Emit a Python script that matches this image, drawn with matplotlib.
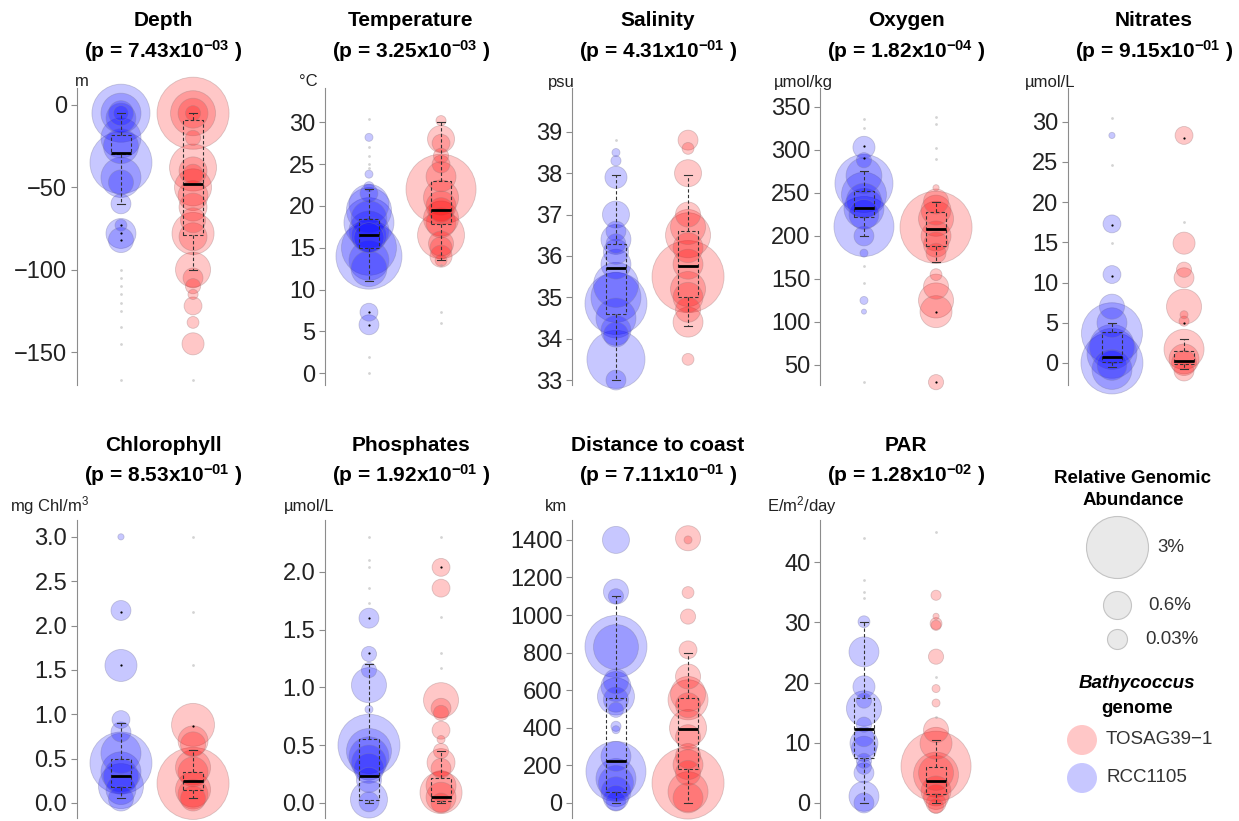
import matplotlib
matplotlib.use("Agg")
import matplotlib.pyplot as plt
import numpy as np

plt.rcParams['font.family'] = ['Liberation Sans', 'DejaVu Sans']
plt.rcParams['mathtext.fontset'] = 'custom'
plt.rcParams['mathtext.rm'] = 'Liberation Sans'
plt.rcParams['mathtext.bf'] = 'Liberation Sans:bold'
plt.rcParams['mathtext.it'] = 'Liberation Sans:italic'

# (value, relative genomic abundance in %) per sample; 0 = trace only
depth_rcc = [(-5, 2.63), (-5, 1.25), (-5, 0.49), (-5, 0.18), (-8, 0.7), (-20, 1.25), (-25, 0.96),
             (-35, 3.0), (-44, 1.25), (-47, 0.49), (-60, 0.31), (-73, 0.11), (-78, 0.7), (-82, 0.49),
             (-100, 0), (-105, 0), (-110, 0), (-115, 0), (-120, 0), (-125, 0), (-135, 0), (-145, 0), (-167, 0)]
depth_tosag = [(-5, 4.05), (-5, 1.58), (-5, 0.7), (-5, 0.18), (-20, 0.18), (-38, 1.72), (-40, 0.61),
               (-42, 0.31), (-50, 1.07), (-55, 0.7), (-62, 0.61), (-70, 0.49), (-78, 1.38), (-80, 0.61),
               (-100, 0.96), (-105, 0.31), (-110, 0.18), (-115, 0.08), (-122, 0.25), (-132, 0.11),
               (-145, 0.38), (-167, 0)]
temp_rcc = [(30.4, 0), (27, 0), (26, 0), (25, 0), (24.5, 0), (2, 0), (0, 0), (28.2, 0.05), (23.8, 0.05),
            (22.3, 0.08), (21.5, 0.25), (20.2, 1.25), (19.5, 1.58), (18.5, 1.0), (18, 1.95), (17, 1.25),
            (16.5, 0.96), (16.2, 0.7), (15, 2.36), (14, 3.4), (13.5, 1.25), (12.5, 1.0), (7.3, 0.25), (5.8, 0.31)]
temp_tosag = [(30.2, 0.08), (28, 0.57), (27.5, 0.25), (26, 0.18), (25, 0.25), (23.5, 0.7), (22, 3.83),
              (21, 0.96), (20, 0.7), (19.5, 0.49), (18.5, 0.96), (18, 0.7), (16.5, 1.72), (15.5, 0.49),
              (15, 0.38), (14, 0.38), (13.5, 0.11), (13, 0), (7.3, 0), (6, 0)]
sal_rcc = [(38.8, 0), (38.5, 0.05), (38.3, 0.08), (37.9, 0.38), (37.0, 0.57), (36.6, 0.31), (36.4, 0.7),
           (36.3, 0.3), (36.1, 0.49), (35.8, 0.7), (35.3, 1.58), (35.0, 1.95), (34.85, 3.0), (34.5, 1.25),
           (34.2, 0.7), (34.1, 0.49), (33.5, 2.63), (33.0, 0.31)]
sal_tosag = [(38.8, 0.31), (38.6, 0.11), (38.0, 0.57), (37.0, 0.49), (36.7, 0.96), (36.5, 1.58),
             (36.2, 0.7), (35.8, 0.7), (35.5, 4.05), (35.2, 0.96), (35.0, 0.7), (34.7, 0.49), (34.4, 0.7),
             (33.5, 0.11)]
oxy_rcc = [(336, 0), (325, 0), (165, 0), (145, 0), (30, 0), (303, 0.38), (288, 0.18), (270, 1.0),
           (261, 2.63), (248, 1.58), (241, 0.96), (232, 1.25), (225, 0.7), (211, 2.81), (200, 0.31),
           (180, 0.05), (125, 0.05), (112, 0.02)]
oxy_tosag = [(338, 0), (330, 0), (302, 0), (290, 0), (256, 0.03), (240, 0.49), (230, 0.7), (220, 0.96),
             (210, 4.05), (200, 0.7), (190, 0.49), (180, 0.31), (155, 0.11), (141, 0.49), (125, 0.96),
             (112, 0.8), (30, 0.18)]
nit_rcc = [(30.5, 0), (24.6, 0), (14.9, 0), (28.3, 0.03), (17.3, 0.25), (11.0, 0.25), (7.0, 0.49),
           (5.0, 0.7), (3.7, 2.9), (2.0, 1.58), (1.2, 1.95), (0.0, 3.0), (-0.8, 1.25), (-0.3, 0.7)]
nit_tosag = [(17.5, 0), (28.3, 0.25), (14.9, 0.38), (11.6, 0.18), (10.6, 0.31), (7.0, 0.96), (6.0, 0.05),
             (5.2, 0.08), (1.7, 1.25), (0.5, 0.7), (0.0, 0.49), (-1.0, 0.31)]
chl_rcc = [(3.0, 0.03), (2.17, 0.31), (1.55, 0.8), (0.94, 0.25), (0.8, 0.31), (0.56, 1.25), (0.45, 3.0),
           (0.35, 1.25), (0.3, 0.96), (0.19, 1.58), (0.15, 0.7), (0.05, 0.49)]
chl_tosag = [(3.0, 0), (2.15, 0), (1.55, 0), (0.88, 1.44), (0.7, 0.7), (0.66, 0.49), (0.4, 0.96),
             (0.35, 0.7), (0.22, 4.05), (0.15, 0.96), (0.1, 0.7), (0.05, 0.49)]
pho_rcc = [(2.30, 0), (2.10, 0), (2.04, 0), (1.86, 0), (1.73, 0), (1.60, 0.31), (1.29, 0.18), (1.15, 0.18),
           (1.02, 0.96), (0.81, 0.05), (0.5, 3.0), (0.45, 1.58), (0.40, 1.25), (0.35, 0.96), (0.3, 0.7),
           (0.2, 0.49), (0.03, 1.07), (0.01, 0.31)]
pho_tosag = [(2.30, 0), (1.61, 0), (1.30, 0), (1.17, 0), (2.04, 0.25), (1.86, 0.25), (0.89, 0.96),
             (0.82, 0.31), (0.78, 0.18), (0.63, 0.25), (0.55, 0.05), (0.45, 0.18), (0.35, 0.61), (0.3, 0.31),
             (0.15, 0.7), (0.09, 1.38), (0.05, 0.7), (0.0, 0.31)]
dist_rcc = [(1400, 0.57), (1125, 0.49), (1100, 0.18), (833, 3.0), (830, 1.58), (647, 0.49), (620, 0.7),
            (567, 1.07), (550, 0.49), (496, 0.18), (408, 0.08), (390, 0.05), (248, 0.7), (168, 2.81),
            (130, 1.25), (106, 0.96), (60, 0.7), (27, 0.49), (10, 0.31)]
dist_tosag = [(1409, 0.49), (1400, 0.05), (1120, 0.11), (992, 0.18), (815, 0.25), (673, 0.49), (580, 0.96),
              (549, 1.25), (520, 0.49), (399, 1.07), (350, 0.49), (250, 0.49), (204, 0.7), (160, 0.49),
              (106, 4.05), (60, 1.25), (27, 0.7)]
par_rcc = [(44, 0), (37, 0), (35, 0), (34, 0), (30.1, 0.11), (25.1, 0.7), (19.3, 0.38), (17, 0.18),
           (15.7, 0.96), (13, 0.18), (11, 0.31), (9.9, 0.61), (9, 0.49), (7, 0.18), (6, 0.18), (5, 0.31),
           (1.1, 0.7), (0, 0.31)]
par_tosag = [(45, 0), (21, 0), (14.3, 0), (34.5, 0.08), (31, 0.03), (29.8, 0.11), (29.5, 0.08), (24.3, 0.18),
             (19, 0.05), (16.6, 0.05), (12.1, 0.49), (9.9, 0.8), (6.1, 3.83), (5, 0.96), (4.7, 1.58),
             (2, 0.7), (1, 0.49), (0, 0.31), (-0.5, 0.18)]

# box stats: whislo, q1, median, q3, whishi ; then outliers
depth_box = ([-60, -30, -29, -18, -5], [-100, -79, -48, -9, -5])
depth_out = ([-73, -78, -82], [])
temp_box = ([11, 15, 16.5, 18.5, 22], [13.5, 17.8, 19.5, 23, 30])
temp_out = ([7.3, 5.8], [])
sal_box = ([33, 34.6, 35.7, 36.3, 37.95], [34.3, 35.0, 35.75, 36.6, 37.95])
sal_out = ([], [])
oxy_box = ([200, 222, 233, 252, 275], [170, 188, 208, 228, 240])
oxy_out = ([305, 291], [111, 30])
nit_box = ([-0.5, 0.1, 0.8, 3.8, 5], [-0.8, -0.1, 0.3, 1.5, 3])
nit_out = ([17.1, 10.8], [28, 5])
chl_box = ([0.05, 0.18, 0.3, 0.5, 0.9], [0.05, 0.15, 0.25, 0.35, 0.6])
chl_out = ([2.15, 1.55], [0.87])
pho_box = ([0, 0.03, 0.23, 0.55, 1.2], [0, 0.02, 0.05, 0.22, 0.45])
pho_out = ([1.6, 1.3], [2.04])
dist_box = ([0, 60, 222, 560, 1100], [0, 180, 395, 560, 800])
dist_out = ([], [])
par_box = ([0, 7.5, 12.3, 17.5, 30], [0, 1.5, 3.7, 6, 10.5])
par_out = ([], [])

titles = ["Depth", "Temperature", "Salinity", "Oxygen", "Nitrates",
          "Chlorophyll", "Phosphates", "Distance to coast", "PAR"]
pvals = ["7.43", "3.25", "4.31", "1.82", "9.15", "8.53", "1.92", "7.11", "1.28"]
pexps = ["-03", "-03", "-01", "-04", "-01", "-01", "-01", "-01", "-02"]
units = ["m", "°C", "psu", "µmol/kg", "µmol/L", "mg Chl/m$^3$", "µmol/L", "km", "E/m$^2$/day"]

W, H = 1239, 821
fig = plt.figure(figsize=(W / 100, H / 100), dpi=100)
fig.patch.set_facecolor('white')

BLUE_F, BLUE_E = (0.0, 0.0, 1.0, 0.22), (0.5, 0.5, 0.65, 0.4)
RED_F, RED_E = (1.0, 0.0, 0.0, 0.22), (0.65, 0.5, 0.5, 0.4)


def bubble_size(ab):
    d_px = 62 * np.sqrt(np.asarray(ab) / 3.0)
    return (d_px * 0.72) ** 2


def draw_panel(ax, rcc, tosag, boxes, outs, ylim, ticks, fmt):
    for pos, pts, fc, ec in [(1, rcc, BLUE_F, BLUE_E), (2, tosag, RED_F, RED_E)]:
        vals = np.array([p[0] for p in pts], float)
        ab = np.array([p[1] for p in pts], float)
        on = ab > 0
        order = np.argsort(-ab[on])
        ax.scatter(np.full(on.sum(), pos), vals[on][order], s=bubble_size(ab[on][order]),
                   facecolor=fc, edgecolor=ec, linewidth=0.6, clip_on=False, zorder=2)
        ax.scatter(np.full((~on).sum(), pos), vals[~on], s=4, color='#a8a8a8', alpha=0.5,
                   linewidth=0, clip_on=False, zorder=2)
    stats = []
    for b, f in zip(boxes, outs):
        stats.append(dict(whislo=b[0], q1=b[1], med=b[2], q3=b[3], whishi=b[4], fliers=f))
    dash = (0, (3, 2))
    ax.bxp(stats, positions=[1, 2], widths=0.28, capwidths=0.1, manage_ticks=False,
           boxprops=dict(color='#333333', lw=0.8, ls=dash),
           whiskerprops=dict(color='#333333', lw=0.8, ls=dash),
           capprops=dict(color='#333333', lw=0.8),
           medianprops=dict(color='black', lw=2),
           flierprops=dict(marker='o', markersize=1.6, markerfacecolor='black',
                           markeredgecolor='none'), zorder=3)
    ax.set_xlim(0.39, 2.61)
    ax.set_ylim(ylim)
    ax.set_xticks([])
    ax.set_yticks(ticks)
    ax.set_yticklabels([fmt.format(t).replace('-', '\u2212') for t in ticks])
    for s in ['top', 'right', 'bottom']:
        ax.spines[s].set_visible(False)
    ax.spines['left'].set_color('#8c8c8c')
    ax.tick_params(axis='y', length=4, color='#8c8c8c', labelsize=17, labelcolor='#222222', pad=3)
    ax.set_facecolor('none')


axis_x = [77, 325, 572, 820, 1068]
rows = [(88, 385), (520, 818)]
data = [(depth_rcc, depth_tosag, depth_box, depth_out, (-170, 10.3), [-150, -100, -50, 0], "{:d}"),
        (temp_rcc, temp_tosag, temp_box, temp_out, (-1.4, 34.1), [0, 5, 10, 15, 20, 25, 30], "{:d}"),
        (sal_rcc, sal_tosag, sal_box, sal_out, (32.88, 40.06), [33, 34, 35, 36, 37, 38, 39], "{:d}"),
        (oxy_rcc, oxy_tosag, oxy_box, oxy_out, (26.7, 372), [50, 100, 150, 200, 250, 300, 350], "{:d}"),
        (nit_rcc, nit_tosag, nit_box, nit_out, (-2.74, 34.2), [0, 5, 10, 15, 20, 25, 30], "{:d}"),
        (chl_rcc, chl_tosag, chl_box, chl_out, (-0.17, 3.19), [0, 0.5, 1.0, 1.5, 2.0, 2.5, 3.0], "{:.1f}"),
        (pho_rcc, pho_tosag, pho_box, pho_out, (-0.13, 2.45), [0, 0.5, 1.0, 1.5, 2.0], "{:.1f}"),
        (dist_rcc, dist_tosag, dist_box, dist_out, (-80, 1506), list(range(0, 1401, 200)), "{:d}"),
        (par_rcc, par_tosag, par_box, par_out, (-2.5, 47), [0, 10, 20, 30, 40], "{:d}")]
unit_dx = [5, -17, -11, -17, -18, -27, -16, -16, -18]

for i, (rcc, tos, box, out, ylim, ticks, fmt) in enumerate(data):
    r, c = divmod(i, 5)
    top, bot = rows[r]
    x0 = axis_x[c]
    ax = fig.add_axes([x0 / W, 1 - bot / H, 160 / W, (bot - top) / H])
    draw_panel(ax, rcc, tos, box, out, ylim, ticks, fmt)
    ty = [21, 445][r]
    fig.text((x0 + 86) / W, 1 - ty / H, titles[i], ha='center', va='center',
             fontsize=15, fontweight='bold')
    fig.text((x0 + 86) / W, 1 - (ty + 30) / H,
             r"(p = %sx10$^{\mathbf{%s}}$ )" % (pvals[i], pexps[i].replace('-', '\u2212')),
             ha='center', va='center', fontsize=15, fontweight='bold')
    uy = [82, 506][r]
    fig.text((x0 + unit_dx[i]) / W, 1 - uy / H, units[i], ha='center', va='center',
             fontsize=12, color='#222222')

# legend
leg = fig.add_axes([0, 0, 1, 1])
leg.set_xlim(0, W)
leg.set_ylim(H, 0)
leg.axis('off')
leg.patch.set_visible(False)
fig.text(1133 / W, 1 - 478 / H, "Relative Genomic", ha='center', va='center', fontsize=13.5, fontweight='bold')
fig.text(1133 / W, 1 - 500 / H, "Abundance", ha='center', va='center', fontsize=13.5, fontweight='bold')
size_labels = ["3%", "0.6%", "0.03%"]
size_keys_px = [62, 28, 20]
size_y = [547, 605, 639]
size_tx = [1157, 1148, 1145]
for lab, d, y, tx in zip(size_labels, size_keys_px, size_y, size_tx):
    leg.scatter([1117], [y], s=(d * 0.72) ** 2, facecolor='#e9e9e9', edgecolor='#c4c4c4', linewidth=0.8)
    leg.text(tx, y, lab, ha='left', va='center', fontsize=13.5, color='#333333')
fig.text(1137 / W, 1 - 683 / H, "Bathycoccus", ha='center', va='center', fontsize=13.5,
         fontweight='bold', fontstyle='italic')
fig.text(1137 / W, 1 - 708 / H, "genome", ha='center', va='center', fontsize=13.5, fontweight='bold')
for lab, fc, y in [("TOSAG39\u22121", (1, 0, 0, 0.22), 740), ("RCC1105", (0, 0, 1, 0.22), 778)]:
    leg.scatter([1082], [y], s=(30 * 0.72) ** 2, facecolor=fc, edgecolor='none')
    leg.text(1106, y, lab, ha='left', va='center', fontsize=13.5, color='#333333')

fig.savefig("out.png", dpi=100, facecolor='white')
